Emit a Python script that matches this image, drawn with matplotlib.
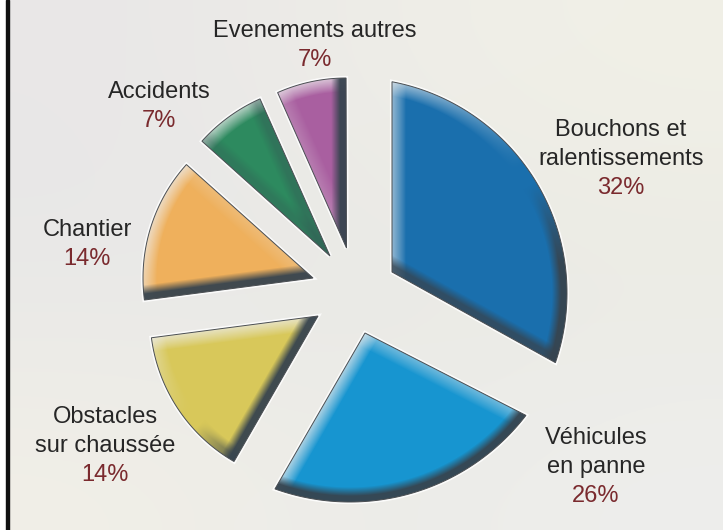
import numpy as np
import matplotlib.pyplot as plt
from matplotlib.patches import PathPatch
from matplotlib.path import Path
from matplotlib.colors import to_rgb

# what the labels say
names = ['Bouchons et\nralentissements', 'Véhicules\nen panne', 'Obstacles\nsur chaussée',
         'Chantier', 'Accidents', 'Evenements autres']
percents = [32, 26, 14, 14, 7, 7]

# slice sizes as measured on the picture (not quite the printed percents)
shares = [33.06, 25.8, 14.6, 13.7, 6.7, 6.6]

colors = ['#1a6fad', '#1795d0', '#d8c85a', '#efb05c', '#2d8a5f', '#a95fa0']
apex_x = [392, 365, 318, 313, 330, 346.5]
apex_y = [272, 333, 316, 278, 256, 248]
tilt = [0, -1.9, -1.9, -1.9, -1.9, -1.8]
# the outer edge is a circle of its own, the two big slices are not centred on their tip
arc_x = [352, 350, 318, 313, 330, 346.5]
arc_y = [293, 280, 316, 278, 256, 248]
arc_r = [215, 222, 168, 170, 172, 170]

label_x = [621, 596, 105, 87, 159, 315]
label_y = [130, 438, 417, 230, 92, 31]

W, H = 723, 530
LIGHT = np.array([-0.6, -0.8])
DARK = np.array(to_rgb('#37444f'))

plt.rcParams['font.family'] = ['Liberation Sans', 'DejaVu Sans']

fig = plt.figure(figsize=(W / 100, H / 100), dpi=100)
ax = fig.add_axes([0, 0, 1, 1])

# paper background, slightly uneven
paper = np.array([[[233, 231, 231], [238, 237, 232], [241, 240, 231]],
                  [[232, 232, 232], [233, 233, 229], [235, 235, 228]],
                  [[241, 239, 232], [236, 236, 232], [238, 238, 236]]]) / 255
ax.imshow(paper, extent=(9, W, H, 0), interpolation='bicubic', aspect='auto', zorder=0)
ax.axvspan(0, 6, color='white', zorder=1)
ax.axvspan(6, 8.5, color='#111111', zorder=1)

yy, xx = np.mgrid[0:H, 0:W] + 0.5


def ray_end(px, py, a, cx, cy, r):
    # where the ray from the tip at angle a meets the outer circle
    u = np.array([np.cos(a), np.sin(a)])
    f = np.array([px - cx, py - cy])
    b = f @ u
    return b * -1 + np.sqrt(b * b - f @ f + r * r)


def slice_path(px, py, a1, a2, cx, cy, r):
    t1 = ray_end(px, py, a1, cx, cy, r)
    t2 = ray_end(px, py, a2, cx, cy, r)
    p1 = (px + t1 * np.cos(a1), py + t1 * np.sin(a1))
    p2 = (px + t2 * np.cos(a2), py + t2 * np.sin(a2))
    b1 = np.arctan2(p1[1] - cy, p1[0] - cx)
    b2 = np.arctan2(p2[1] - cy, p2[0] - cx)
    if b2 < b1:
        b2 += 2 * np.pi
    b = np.linspace(b1, b2, 80)
    verts = [(px, py)] + list(zip(cx + r * np.cos(b), cy + r * np.sin(b))) + [(px, py)]
    return Path(verts, closed=True)


def tint(img, strength, color):
    img += (color - img) * strength[..., None]


def shade(color, px, py, a1, a2, cx, cy, r):
    img = np.ones((H, W, 3)) * np.array(to_rgb(color))
    dx, dy = xx - px, yy - py
    edges = []
    for a, sign in ((a1, -1), (a2, 1)):
        n = sign * np.array([-np.sin(a), np.cos(a)])
        d = np.abs(dx * n[0] + dy * n[1])
        edges.append((d, np.full(d.shape, n @ LIGHT)))
    ox, oy = xx - cx, yy - cy
    dist = np.hypot(ox, oy) + 1e-6
    edges.append((r - dist, (ox * LIGHT[0] + oy * LIGHT[1]) / dist))
    # light edges first so dark bands sit on top at the corners
    for d, s in edges:
        f = np.clip(1 - d / 14, 0, 1) ** 0.9
        tint(img, f * np.clip(s * 0.95, 0, 0.7), np.array([0.93, 0.93, 0.93]))
    for d, s in edges:
        f = np.clip((15 - d) / 9, 0, 1)
        tint(img, f * np.clip((-s - 0.1) * 2.5, 0, 0.95), DARK)
    return img


start = 0
for i in range(len(shares)):
    sweep = np.radians(shares[i] * 3.6)
    a1 = np.radians(tilt[i] - 90) + start
    a2 = a1 + sweep
    start += sweep
    geo = (apex_x[i], apex_y[i], a1, a2, arc_x[i], arc_y[i], arc_r[i])
    path = slice_path(*geo)

    ax.add_patch(PathPatch(path, fc='none', ec='white', lw=3, alpha=0.85, zorder=2))
    im = ax.imshow(shade(colors[i], *geo), extent=(0, W, H, 0), aspect='auto', zorder=3)
    im.set_clip_path(PathPatch(path, transform=ax.transData))
    ax.add_patch(PathPatch(path, fc='none', ec='#4a4e52', lw=0.7, zorder=4))

    lines = names[i].split('\n')
    for j, line in enumerate(lines):
        ax.text(label_x[i], label_y[i] + j * 29, line, ha='center', va='center',
                fontsize=17, color='#262626', zorder=5)
    ax.text(label_x[i], label_y[i] + len(lines) * 29, f'{percents[i]}%', ha='center', va='center',
            fontsize=17, color='#7a2a2e', zorder=5)

ax.set_xlim(0, W)
ax.set_ylim(H, 0)
ax.axis('off')

plt.savefig('out.png', dpi=100)
